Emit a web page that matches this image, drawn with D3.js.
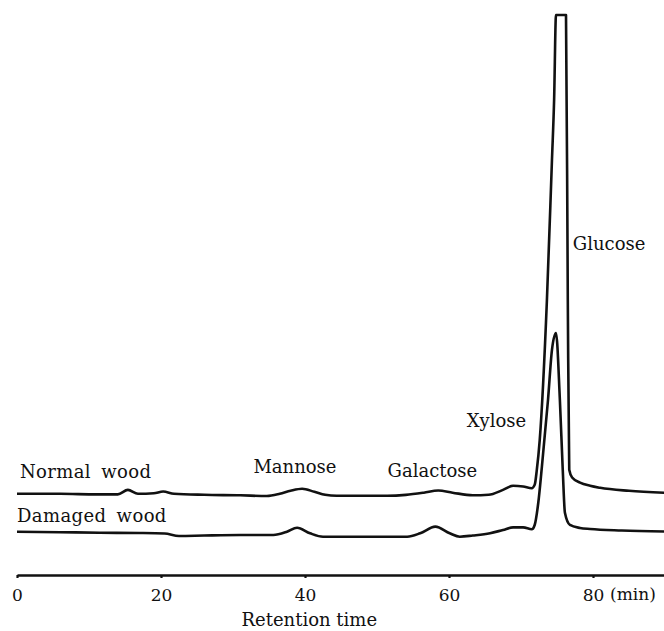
<!DOCTYPE html>
<html>
<head>
<meta charset="utf-8">
<script src="https://cdn.jsdelivr.net/npm/d3@7"></script>
<style>
    body { margin: 0; background: #fff; }
    svg text { font-family: "DejaVu Serif", serif; fill: #111; }
</style>
</head>
<body>
<div id="chart"></div>
<script>
// retention time (min)
const normalTime = [0, 6, 11, 14, 15.4, 16.8, 19, 20.3, 21.8, 26, 31, 34.7, 36.5, 38, 39.6, 41.3, 42.8, 44.4, 48, 51.4,
    54, 56.5, 58.5, 60.5, 63.3, 65.5, 67.5, 68.9, 70.3, 71.5, 71.9, 72.2, 72.6, 73.6, 74.3, 74.6, 74.86,
    76.25, 76.5, 76.7, 77.1, 78.2, 79.6, 81, 85, 90];
// detector response above the trace baseline (glucose goes off scale, flat top)
const normalSignal = [0, 0, -0.1, -0.1, 0.7, 0, 0.1, 0.4, 0, -0.18, -0.27, -0.4, 0, 0.54, 0.9, 0.36, -0.18, -0.36, -0.36, -0.36,
    -0.2, 0.2, 0.6, 0.2, -0.27, -0.18, 0.7, 1.43, 1.3, 1.0, 1.6, 4.3, 9.6, 34.6, 59.6, 70.4, 85.5,
    85.5, 34.6, 4.3, 2.9, 2.0, 1.43, 1.07, 0.54, 0.18];

const damagedTime = [0, 6, 11.5, 17, 20.5, 22.5, 26, 31, 35.6, 37.5, 38.9, 40.7, 42.5, 48, 54.2, 56, 58.1, 60.1, 61.5,
    63.3, 65.7, 67.5, 68.9, 70.3, 71.5, 71.9, 72.4, 72.9, 73.75, 74.3, 74.86, 75.4, 75.8, 76.1, 76.8,
    78.2, 79.6, 84, 90];
const damagedSignal = [0.23, 0.14, 0.05, 0, -0.1, -0.54, -0.45, -0.36, -0.36, 0.23, 0.95, -0.05, -0.66, -0.66, -0.66, -0.05, 1.13, -0.05, -0.66,
    -0.45, -0.05, 0.54, 1.0, 1.0, 0.66, 1.43, 5.4, 11.8, 23.75, 32.7, 35.7, 23.75, 11.25, 3.6, 1.43,
    0.9, 0.71, 0.45, 0.27];

// baseline offsets of the two stacked traces
const traceNames = ["Normal wood", "Damaged wood"];
const traceOffsets = [14.5, 7.5];

const xTicks = [0, 20, 40, 60, 80];

// peak labels: text, time, response
const peakLabels = ["Mannose", "Galactose", "Xylose", "Glucose"];
const peakLabelTime = [38.6, 57.7, 66.6, 77.2];
const peakLabelLevel = [18.2, 17.5, 26.4, 58.0];
const peakLabelAnchor = ["middle", "middle", "middle", "start"];

const traceLabelTime = [0.4, 0];
const traceLabelLevel = [17.3, 9.5];

class ChromatogramD3 {
    margin = {top: 15, right: -1, bottom: 56, left: 17};
    svg;
    xScale;
    yScale;

    constructor(el){
        this.el = el;
    };

    create = function (config) {
        this.width = config.size.width - this.margin.left - this.margin.right;
        this.height = config.size.height - this.margin.top - this.margin.bottom;

        this.svg = d3.select(this.el).append("svg")
            .attr("width", config.size.width)
            .attr("height", config.size.height)
            .append("g")
            .attr("transform", "translate(" + this.margin.left + "," + this.margin.top + ")");

        this.xScale = d3.scaleLinear().domain([0, 90]).range([0, this.width]);
        this.yScale = d3.scaleLinear().domain([0, 100]).range([this.height, 0]);
    }

    renderAxis = function () {
        const xAxisG = this.svg.append("g")
            .attr("class", "xAxisG")
            .attr("transform", "translate(0," + this.height + ")")
            .call(d3.axisBottom(this.xScale).tickValues(xTicks).tickSize(3).tickSizeOuter(0).tickPadding(11));
        xAxisG.select(".domain").attr("stroke", "#111").attr("stroke-width", 2.6);
        xAxisG.selectAll(".tick line").attr("stroke", "#111").attr("stroke-width", 2.2);
        xAxisG.selectAll(".tick text").attr("font-size", 17).attr("fill", "#111");
        xAxisG.attr("font-family", null);

        // unit next to the last tick
        xAxisG.append("text")
            .attr("x", this.xScale(80) + 17)
            .attr("y", 25)
            .attr("text-anchor", "start")
            .attr("font-size", 17)
            .attr("fill", "#111")
            .text("(min)");

        this.svg.append("text")
            .attr("x", this.xScale(40.6))
            .attr("y", this.height + 51)
            .attr("text-anchor", "middle")
            .attr("font-size", 18)
            .text("Retention time");
    }

    renderTraces = function () {
        const traces = [
            {time: normalTime, signal: normalSignal, offset: traceOffsets[0]},
            {time: damagedTime, signal: damagedSignal, offset: traceOffsets[1]}
        ];
        const line = d3.line()
            .x(d => this.xScale(d[0]))
            .y(d => this.yScale(d[1]))
            .curve(d3.curveMonotoneX);

        this.svg.selectAll(".traceG")
            .data(traces)
            .join("path")
            .attr("class", "traceG")
            .attr("fill", "none")
            .attr("stroke", "#111")
            .attr("stroke-width", 2.6)
            .attr("stroke-linejoin", "round")
            .attr("d", tr => line(tr.time.map((t, i) => [t, tr.signal[i] + tr.offset])));

        this.svg.selectAll(".traceLabel")
            .data(traceNames)
            .join("text")
            .attr("class", "traceLabel")
            .attr("x", (d, i) => this.xScale(traceLabelTime[i]))
            .attr("y", (d, i) => this.yScale(traceLabelLevel[i]))
            .attr("font-size", 18)
            .attr("letter-spacing", 0.4)
            .attr("word-spacing", 4)
            .text(d => d);

        this.svg.selectAll(".peakLabel")
            .data(peakLabels)
            .join("text")
            .attr("class", "peakLabel")
            .attr("x", (d, i) => this.xScale(peakLabelTime[i]))
            .attr("y", (d, i) => this.yScale(peakLabelLevel[i]))
            .attr("text-anchor", (d, i) => peakLabelAnchor[i])
            .attr("font-size", 18)
            .text(d => d);
    }
}

const chart = new ChromatogramD3(document.getElementById("chart"));
chart.create({size: {width: 664, height: 631}});
chart.renderAxis();
chart.renderTraces();
</script>
</body>
</html>
